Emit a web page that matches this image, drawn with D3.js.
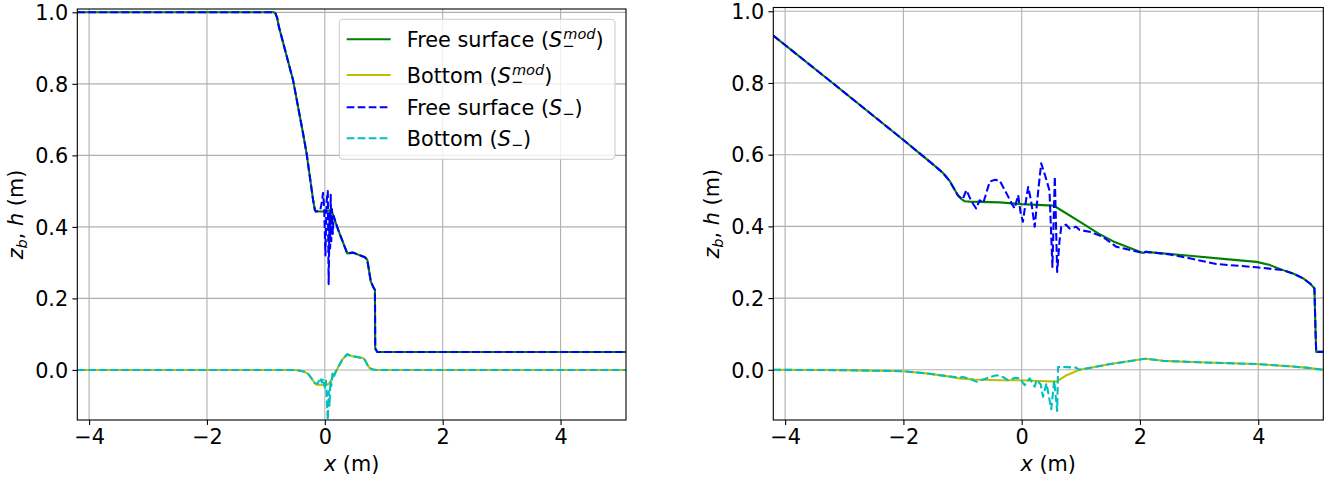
<!DOCTYPE html>
<html><head><meta charset="utf-8">
<script src="https://cdn.jsdelivr.net/npm/d3@7/dist/d3.min.js"></script>
<style>body{margin:0;background:#fff} text{font-family:"DejaVu Sans",sans-serif;fill:#000}</style>
</head><body>
<svg id="c" width="1330" height="479" xmlns="http://www.w3.org/2000/svg"></svg>
<script>
// ---------------- data ----------------
const xTicks = [-4, -2, 0, 2, 4];
const yTicks = [0.0, 0.2, 0.4, 0.6, 0.8, 1.0];
const legendNames = ["Free surface", "Bottom", "Free surface", "Bottom"];

// left panel
const leftSurfaceMod = [[-4.2,1.0],[-0.86,1.0],[-0.84,0.998],[-0.81,0.985],[-0.78,0.96],[-0.54,0.811],[-0.37,0.662],[-0.31,0.606],[-0.2,0.476],[-0.17,0.448],[-0.153,0.443],[0.0,0.443],[0.056,0.445],[0.11,0.448],[0.23,0.39],[0.38,0.326],[0.48,0.328],[0.68,0.315],[0.72,0.308],[0.78,0.247],[0.83,0.229],[0.85,0.224],[0.855,0.06],[0.89,0.05],[5.11,0.05]];
const leftBottomMod = [[-4.2,0],[-0.5,0],[-0.42,-0.002],[-0.35,-0.005],[-0.28,-0.012],[-0.22,-0.025],[-0.17,-0.037],[-0.14,-0.041],[0.0,-0.042],[0.06,-0.04],[0.11,-0.028],[0.2,0.0],[0.3,0.03],[0.38,0.044],[0.45,0.039],[0.65,0.033],[0.68,0.028],[0.72,0.015],[0.76,0.005],[0.82,0.001],[0.88,0],[5.11,0]];
const leftSurface = [[-4.2,1.0],[-0.86,1.0],[-0.84,0.998],[-0.81,0.985],[-0.78,0.96],[-0.54,0.811],[-0.37,0.662],[-0.31,0.606],[-0.2,0.476],[-0.17,0.448],[-0.153,0.443],[-0.08,0.445],[-0.05,0.47],[-0.03,0.495],[-0.01,0.45],[0.01,0.32],[0.03,0.47],[0.05,0.5],[0.065,0.24],[0.08,0.44],[0.09,0.34],[0.1,0.49],[0.11,0.36],[0.12,0.45],[0.135,0.38],[0.15,0.43],[0.23,0.39],[0.38,0.326],[0.48,0.328],[0.68,0.315],[0.72,0.308],[0.78,0.247],[0.83,0.229],[0.85,0.224],[0.855,0.06],[0.89,0.05],[5.11,0.05]];
const leftBottom = [[-4.2,0],[-0.5,0],[-0.42,-0.002],[-0.35,-0.005],[-0.28,-0.012],[-0.22,-0.025],[-0.17,-0.037],[-0.12,-0.038],[-0.08,-0.022],[-0.05,-0.035],[-0.03,-0.025],[0.0,-0.05],[0.02,-0.03],[0.035,-0.09],[0.05,-0.14],[0.065,-0.06],[0.08,-0.1],[0.095,-0.03],[0.11,-0.045],[0.13,-0.01],[0.15,-0.02],[0.2,0.0],[0.3,0.03],[0.38,0.044],[0.45,0.039],[0.65,0.033],[0.68,0.028],[0.72,0.015],[0.76,0.005],[0.82,0.001],[0.88,0],[5.11,0]];

// right panel
const rightSurfaceMod = [[-4.2,0.932],[-3.25,0.807],[-2.0,0.641],[-1.72,0.603],[-1.5,0.573],[-1.33,0.549],[-1.22,0.527],[-1.14,0.504],[-1.08,0.487],[-1.02,0.476],[-0.96,0.470],[-0.88,0.469],[-0.37,0.467],[0.0,0.462],[0.53,0.458],[0.6,0.452],[0.98,0.413],[1.3,0.38],[1.55,0.358],[2.05,0.326],[2.1,0.329],[2.84,0.318],[3.5,0.308],[3.97,0.301],[4.2,0.292],[4.42,0.278],[4.6,0.268],[4.76,0.255],[4.88,0.24],[4.95,0.227],[4.97,0.1],[4.98,0.05],[5.1,0.05]];
const rightBottomMod = [[-4.2,0],[-3.0,-0.001],[-2.0,-0.004],[-1.61,-0.01],[-1.3,-0.017],[-1.05,-0.024],[-0.8,-0.027],[-0.37,-0.029],[0.0,-0.029],[0.3,-0.031],[0.59,-0.033],[0.76,-0.015],[0.98,0.0],[1.5,0.016],[2.05,0.03],[2.1,0.031],[2.39,0.025],[3.0,0.021],[3.97,0.016],[4.53,0.01],[4.8,0.006],[5.1,0.0]];
const rightSurface = [[-4.2,0.932],[-3.25,0.807],[-2.0,0.641],[-1.72,0.603],[-1.5,0.573],[-1.33,0.549],[-1.22,0.527],[-1.14,0.504],[-1.08,0.487],[-1.0,0.475],[-0.935,0.501],[-0.85,0.47],[-0.77,0.45],[-0.71,0.473],[-0.65,0.465],[-0.54,0.525],[-0.45,0.53],[-0.37,0.527],[-0.25,0.49],[-0.17,0.464],[-0.12,0.45],[-0.06,0.487],[-0.02,0.44],[0.02,0.413],[0.08,0.48],[0.11,0.51],[0.16,0.47],[0.22,0.399],[0.28,0.5],[0.33,0.576],[0.4,0.54],[0.47,0.5],[0.52,0.287],[0.56,0.539],[0.6,0.273],[0.64,0.36],[0.67,0.399],[0.75,0.405],[0.81,0.394],[0.92,0.399],[0.98,0.39],[1.15,0.385],[1.37,0.371],[1.6,0.343],[2.05,0.326],[2.1,0.329],[2.5,0.322],[2.84,0.311],[3.29,0.295],[3.97,0.286],[4.42,0.278],[4.6,0.268],[4.76,0.255],[4.88,0.24],[4.95,0.227],[4.97,0.1],[4.98,0.05],[5.1,0.05]];
const rightBottom = [[-4.2,0],[-3.0,-0.001],[-2.0,-0.004],[-1.61,-0.01],[-1.3,-0.017],[-1.05,-0.022],[-0.99,-0.02],[-0.88,-0.025],[-0.77,-0.033],[-0.6,-0.024],[-0.43,-0.015],[-0.32,-0.02],[-0.23,-0.029],[-0.1,-0.022],[-0.03,-0.024],[0.05,-0.043],[0.135,-0.024],[0.22,-0.047],[0.25,-0.029],[0.32,-0.04],[0.36,-0.075],[0.42,-0.038],[0.5,-0.11],[0.55,-0.03],[0.6,-0.115],[0.615,0.008],[0.7,0.008],[0.92,0.006],[0.98,0.0],[1.5,0.016],[2.05,0.03],[2.1,0.031],[2.39,0.025],[3.0,0.021],[3.97,0.016],[4.53,0.01],[4.8,0.006],[5.1,0.0]];

// ---------------- layout / style ----------------
const FS = 20.8;
const styles = [
  {color:"#008000", dash:null},
  {color:"#bfbf00", dash:null},
  {color:"#0000ff", dash:"7.7,3.3"},
  {color:"#00bfbf", dash:"7.7,3.3"}
];
const panels = [
  {l:77.3, r:626, t:9, b:420, xd:[-4.2,5.11], yd:[-0.14,1.0093], series:[leftSurfaceMod,leftBottomMod,leftSurface,leftBottom], legend:true, ylabX:23},
  {l:773.3, r:1323.3, t:7.5, b:420, xd:[-4.2,5.1], yd:[-0.14,1.0105], series:[rightSurfaceMod,rightBottomMod,rightSurface,rightBottom], legend:false, ylabX:719}
];

const svg = d3.select("#c");
const minus = s => s.replace(/-/g, "\u2212");

panels.forEach((p, pi) => {
  const x = d3.scaleLinear().domain(p.xd).range([p.l, p.r]);
  const y = d3.scaleLinear().domain(p.yd).range([p.b, p.t]);
  const g = svg.append("g");

  // grid
  g.selectAll(".gx").data(xTicks).enter().append("line")
    .attr("x1", d => x(d)).attr("x2", d => x(d)).attr("y1", p.t).attr("y2", p.b)
    .attr("stroke", "#b0b0b0").attr("stroke-width", 1.1);
  g.selectAll(".gy").data(yTicks).enter().append("line")
    .attr("y1", d => y(d)).attr("y2", d => y(d)).attr("x1", p.l).attr("x2", p.r)
    .attr("stroke", "#b0b0b0").attr("stroke-width", 1.1);

  // clip
  const cid = "clip" + pi;
  svg.append("clipPath").attr("id", cid).append("rect")
    .attr("x", p.l).attr("y", p.t).attr("width", p.r - p.l).attr("height", p.b - p.t);

  const line = d3.line().x(d => x(d[0])).y(d => y(d[1]));
  const lg = g.append("g").attr("clip-path", `url(#${cid})`);
  p.series.forEach((s, i) => {
    lg.append("path").attr("d", line(s)).attr("fill", "none")
      .attr("stroke", styles[i].color).attr("stroke-width", 2.08)
      .attr("stroke-dasharray", styles[i].dash)
      .attr("stroke-linejoin", "round");
  });

  // axes
  const xa = d3.axisBottom(x).tickValues(xTicks).tickSize(4.9).tickPadding(4.2).tickFormat(d => minus(d3.format("d")(d)));
  const ya = d3.axisLeft(y).tickValues(yTicks).tickSize(4.9).tickPadding(4.2).tickFormat(d3.format(".1f"));
  const gx = g.append("g").attr("transform", `translate(0,${p.b})`).call(xa);
  const gy = g.append("g").attr("transform", `translate(${p.l},0)`).call(ya);
  [gx, gy].forEach(a => {
    a.select(".domain").remove();
    a.selectAll("line").attr("stroke", "#000").attr("stroke-width", 1.1);
    a.selectAll("text").attr("font-size", FS).attr("font-family", "DejaVu Sans").attr("fill", "#000");
  });
  gy.selectAll("text").attr("dy", "0.35em");

  // spines
  g.append("rect").attr("x", p.l).attr("y", p.t).attr("width", p.r - p.l).attr("height", p.b - p.t)
    .attr("fill", "none").attr("stroke", "#000").attr("stroke-width", 1.1);

  // x label
  const xl = g.append("text").attr("x", (p.l + p.r) / 2).attr("y", 471).attr("text-anchor", "middle").attr("font-size", FS);
  xl.append("tspan").attr("font-style", "italic").text("x");
  xl.append("tspan").text(" (m)");

  // y label
  const yc = (p.t + p.b) / 2;
  const yl = g.append("text").attr("transform", `translate(${p.ylabX},${yc}) rotate(-90)`).attr("text-anchor", "middle").attr("font-size", FS);
  yl.append("tspan").attr("font-style", "italic").text("z");
  yl.append("tspan").attr("font-style", "italic").attr("font-size", FS * 0.7).attr("dy", 4).text("b");
  yl.append("tspan").attr("dy", -4).text(", ");
  yl.append("tspan").attr("font-style", "italic").text("h");
  yl.append("tspan").text(" (m)");

  // legend
  if (p.legend) {
    const lx = 339.3, ly = 19.3, lw = 275.7, lh = 140;
    g.append("rect").attr("x", lx).attr("y", ly).attr("width", lw).attr("height", lh)
      .attr("rx", 4).attr("fill", "#fff").attr("fill-opacity", 0.8)
      .attr("stroke", "#cccccc").attr("stroke-width", 1.1);
    const rows = [39.3, 75, 107.3, 138.3];
    const sub = FS * 0.7;
    rows.forEach((ry, i) => {
      g.append("line").attr("x1", 346.7).attr("x2", 390.7).attr("y1", ry).attr("y2", ry)
        .attr("stroke", styles[i].color).attr("stroke-width", 2.08).attr("stroke-dasharray", styles[i].dash);
      const t = g.append("text").attr("x", 406.7).attr("y", ry + 7.8).attr("font-size", FS);
      t.append("tspan").text(legendNames[i] + " (");
      t.append("tspan").attr("font-style", "italic").text("S");
      const subT = t.append("tspan").attr("font-size", sub).attr("dy", 4).text("\u2212");
      if (i < 2) {
        const w = subT.node().getComputedTextLength();
        t.append("tspan").attr("font-size", sub).attr("font-style", "italic").attr("dx", -w + 1).attr("dy", -12).text("mod");
        t.append("tspan").attr("dy", 8).text(")");
      } else {
        t.append("tspan").attr("dy", -4).text(")");
      }
    });
  }
});
</script>
</body></html>
